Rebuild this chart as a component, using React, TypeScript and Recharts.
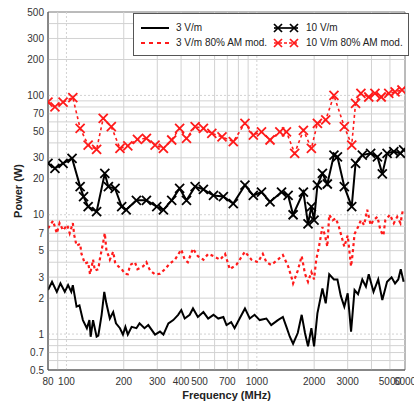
import React from "react";
import { LineChart, Line, XAxis, YAxis, ReferenceLine, ReferenceArea } from "recharts";

// 3 V/m
const freq3 = [80, 84, 89, 93, 98, 102, 106, 108, 113, 117, 122, 128, 132, 134, 138, 144, 147, 153, 158, 162, 169, 176, 182, 191, 198, 204, 210, 220, 233, 242, 257, 269, 292, 310, 323, 343, 364, 386, 401, 418, 444, 462, 490, 524, 555, 592, 627, 667, 693, 733, 764, 812, 866, 918, 973, 1035, 1122, 1190, 1290, 1370, 1430, 1490, 1550, 1640, 1720, 1790, 1857, 1934, 1998, 2080, 2210, 2300, 2400, 2540, 2650, 2760, 2880, 3000, 3125, 3260, 3400, 3580, 3740, 3870, 4100, 4340, 4560, 4830, 5100, 5320, 5530, 5700, 5900];
const pow3 = [2.34, 2.74, 2.26, 2.66, 2.26, 2.57, 2.26, 2.57, 1.7, 1.74, 1.31, 1.12, 1.31, 0.95, 1.31, 0.95, 0.97, 1.45, 2.26, 1.81, 1.35, 1.53, 1.23, 1.12, 0.99, 1.15, 0.99, 1.15, 1.12, 1.23, 1.12, 1.19, 0.99, 1.05, 0.99, 1.23, 1.31, 1.45, 1.59, 1.35, 1.45, 1.64, 1.39, 1.53, 1.35, 1.45, 1.35, 1.39, 1.19, 1.26, 1.12, 1.35, 1.64, 1.35, 1.45, 1.31, 1.35, 1.19, 1.31, 1.39, 1.15, 0.95, 0.83, 1.02, 1.45, 1.02, 0.79, 1.12, 0.79, 1.49, 2.41, 1.81, 3.17, 2.87, 2.87, 2.09, 1.7, 2.2, 1.05, 2.34, 2.16, 2.87, 2.5, 3.17, 2.26, 2.87, 1.93, 2.74, 2.99, 2.66, 2.87, 3.5, 2.74];

// 10 V/m
const freq10 = [80, 87, 96, 107, 118, 123, 130, 144, 159, 166, 180, 195, 206, 233, 263, 298, 323, 357, 393, 427, 474, 524, 592, 667, 752, 866, 958, 1058, 1173, 1348, 1460, 1550, 1756, 1857, 1934, 1998, 2080, 2210, 2345, 2540, 2650, 2880, 3150, 3300, 3580, 3960, 4300, 4560, 4830, 5240, 5680, 5900];
const pow10 = [27, 24.5, 27, 29.7, 17.2, 14.2, 11.7, 10.6, 22.2, 17.2, 16.6, 11.7, 11, 13.2, 13.2, 11.7, 11, 13.2, 16.6, 13.2, 17.2, 16.3, 14.5, 14.2, 12.4, 17.7, 14.5, 15.5, 12.8, 15.5, 14.5, 10, 15.5, 8.4, 11.7, 9, 17.7, 22.2, 18.1, 31.6, 30.6, 17.2, 11.7, 27, 31.6, 32.7, 30.6, 22, 32.7, 33.8, 32.7, 35];

// 3 V/m 80% AM mod.
const freq3am = [80, 85, 89, 92, 96, 101, 104, 108, 110, 113, 118, 120, 125, 130, 133, 138, 141, 147, 150, 156, 159, 162, 169, 176, 180, 187, 195, 203, 210, 216, 229, 236, 253, 263, 275, 292, 310, 329, 349, 371, 401, 418, 434, 462, 490, 524, 555, 592, 641, 681, 721, 780, 866, 937, 1013, 1075, 1122, 1190, 1290, 1370, 1460, 1520, 1550, 1640, 1720, 1790, 1857, 1934, 1998, 2050, 2120, 2210, 2280, 2345, 2400, 2500, 2600, 2700, 2880, 3000, 3125, 3180, 3260, 3400, 3520, 3660, 3800, 3960, 4100, 4300, 4460, 4620, 4730, 5000, 5240, 5460, 5680, 5850];
const pow3am = [7.7, 8.9, 7.0, 8.5, 7.4, 8.2, 7.0, 8.5, 6.7, 5.5, 5.7, 4.7, 3.9, 4.0, 3.17, 4.2, 3.4, 3.5, 4.3, 5.9, 7.0, 5.1, 4.2, 4.9, 4.0, 3.7, 3.5, 3.2, 3.17, 3.8, 4.0, 3.5, 3.7, 4.0, 3.4, 3.17, 3.2, 3.5, 3.9, 4.2, 5.1, 4.2, 4.0, 5.2, 4.5, 4.2, 4.7, 4.5, 4.2, 4.7, 3.5, 3.8, 4.9, 4.2, 4.0, 4.7, 4.0, 3.8, 4.2, 4.6, 3.7, 3.0, 2.66, 3.4, 4.5, 3.2, 2.74, 3.3, 2.87, 4.2, 5.4, 7.9, 6.7, 5.4, 10, 9.0, 9.3, 7.9, 5.4, 6.7, 3.7, 4.6, 6.9, 7.9, 9.0, 8.2, 11, 8.2, 9.0, 9.6, 7.4, 6.7, 9.0, 10, 8.5, 9.6, 8.5, 11];

// 10 V/m 80% AM mod.
const freq10am = [80, 87, 96, 108, 118, 130, 144, 156, 172, 191, 210, 236, 263, 292, 323, 357, 393, 427, 474, 524, 580, 656, 752, 866, 958, 1058, 1173, 1320, 1430, 1580, 1756, 1934, 2080, 2300, 2540, 2880, 3150, 3300, 3520, 3870, 4170, 4500, 4930, 5320, 5780];
const pow10am = [88, 80, 88, 96, 53, 38.4, 35.3, 64.3, 54.7, 36, 37.8, 42.9, 43.7, 38.4, 36, 42.3, 53, 43.7, 54.7, 53, 48, 45, 41, 58.4, 46.5, 49.5, 42.3, 49.5, 49.5, 32.7, 51, 36, 58.4, 62.3, 100, 54.7, 38.4, 85.7, 104, 97, 104, 97, 104, 107, 111];

const xTicks = [80, 100, 200, 300, 400, 500, 700, 1000, 2000, 3000, 5000, 6000];
const yTicks = [0.5, 0.7, 1, 2, 3, 5, 7, 10, 20, 30, 50, 70, 100, 200, 300, 500];
const xGrid = [90, 100, 200, 300, 400, 500, 600, 700, 800, 900, 1000, 2000, 3000, 4000, 5000];
const yGrid = [0.6, 0.7, 0.8, 0.9, 1, 2, 3, 4, 5, 6, 7, 8, 9, 10, 20, 30, 40, 50, 60, 70, 80, 90, 100, 200, 300, 400];
const decades = [1, 10, 100, 1000];

const zip = (f: number[], p: number[]) => f.map((v, i) => ({ f: v, p: p[i] }));
const d3 = zip(freq3, pow3);
const d10 = zip(freq10, pow10);
const d3am = zip(freq3am, pow3am);
const d10am = zip(freq10am, pow10am);

const FONT = "'Liberation Sans', Arial, sans-serif";
const RED = "#ff1a1a";

const xMark = (color: string) => (props: any) => {
  const { cx, cy, index } = props;
  if (cx == null || cy == null) return <g key={`n${index}`} />;
  const s = 4.5;
  return (
    <g key={`x${index}`}>
      <line x1={cx - s} y1={cy - s} x2={cx + s} y2={cy + s} stroke={color} strokeWidth={1.8} />
      <line x1={cx - s} y1={cy + s} x2={cx + s} y2={cy - s} stroke={color} strokeWidth={1.8} />
    </g>
  );
};

function LegendBox() {
  const icon = (kind: string) => (
    <svg width={30} height={10} style={{ display: "block" }}>
      {kind === "solid" && <line x1={0} y1={5} x2={28} y2={5} stroke="#000" strokeWidth={2} />}
      {kind === "dash" && <line x1={0} y1={5} x2={28} y2={5} stroke={RED} strokeWidth={2} strokeDasharray="4 4" />}
      {(kind === "xblack" || kind === "xred") && (
        <g stroke={kind === "xblack" ? "#000" : RED} strokeWidth={1.7}>
          <line x1={3} y1={5} x2={27} y2={5} strokeDasharray={kind === "xred" ? "3 2" : undefined} />
          <line x1={3} y1={1} x2={11} y2={9} />
          <line x1={3} y1={9} x2={11} y2={1} />
          <line x1={19} y1={1} x2={27} y2={9} />
          <line x1={19} y1={9} x2={27} y2={1} />
        </g>
      )}
    </svg>
  );
  const item = (left: number, top: number, kind: string, text: string) => (
    <div style={{ position: "absolute", left, top, display: "flex", alignItems: "center", gap: 5 }}>
      {icon(kind)}
      <span>{text}</span>
    </div>
  );
  return (
    <div
      style={{
        position: "absolute",
        left: 133,
        top: 13,
        width: 274,
        height: 41,
        border: "1px solid #555",
        background: "#fff",
        fontFamily: FONT,
        fontSize: 10,
        color: "#222",
        lineHeight: "12px",
      }}
    >
      {item(7, 8, "solid", "3 V/m")}
      {item(7, 23, "dash", "3 V/m 80% AM mod.")}
      {item(137, 8, "xblack", "10 V/m")}
      {item(137, 23, "xred", "10 V/m 80% AM mod.")}
    </div>
  );
}

export default function App() {
  return (
    <div style={{ position: "relative", width: 414, height: 402, background: "#fff" }}>
      <style>{`body{margin:0}`}</style>
      <LineChart width={414} height={402} margin={{ top: 12, right: 9, bottom: 0, left: 0 }}>
        <XAxis
          dataKey="f"
          type="number"
          scale="log"
          domain={[80, 6000]}
          ticks={xTicks}
          interval={0}
          allowDataOverflow
          height={32}
          tickLine={false}
          tickSize={6}
          tickMargin={2}
          axisLine={{ stroke: "#555" }}
          tick={{ fill: "#333", fontSize: 10, fontFamily: FONT }}
          label={{ value: "Frequency (MHz)", position: "insideBottom", offset: 3, style: { fontWeight: "bold", fontSize: 11, fontFamily: FONT, fill: "#222" } }}
        />
        <YAxis
          dataKey="p"
          type="number"
          scale="log"
          domain={[0.5, 500]}
          ticks={yTicks}
          interval={0}
          allowDataOverflow
          width={48}
          tickLine={false}
          tickSize={4}
          tickMargin={0}
          axisLine={{ stroke: "#555" }}
          tick={{ fill: "#333", fontSize: 10, fontFamily: FONT }}
          label={{ value: "Power (W)", angle: -90, position: "insideLeft", offset: 18, style: { textAnchor: "middle", fontWeight: "bold", fontSize: 11, fontFamily: FONT, fill: "#222" } }}
        />
        {xGrid.map((v) => (
          <ReferenceLine key={`gx${v}`} x={v} stroke="#d2d2d2" strokeDasharray={decades.includes(v) ? "2 2" : undefined} />
        ))}
        {yGrid.map((v) => (
          <ReferenceLine key={`gy${v}`} y={v} stroke="#d2d2d2" strokeDasharray={decades.includes(v) ? "2 2" : undefined} />
        ))}
        <ReferenceArea x1={80} x2={6000} y1={0.5} y2={500} fill="none" stroke="#777" strokeOpacity={1} fillOpacity={0} />
        <Line data={d3am} dataKey="p" stroke={RED} strokeWidth={2.2} strokeDasharray="3 3" dot={false} isAnimationActive={false} />
        <Line data={d10am} dataKey="p" stroke={RED} strokeWidth={1.6} strokeDasharray="3 3" dot={xMark(RED)} isAnimationActive={false} />
        <Line data={d3} dataKey="p" stroke="#000" strokeWidth={2} dot={false} isAnimationActive={false} />
        <Line data={d10} dataKey="p" stroke="#000" strokeWidth={2} dot={xMark("#000")} isAnimationActive={false} />
      </LineChart>
      <LegendBox />
    </div>
  );
}
